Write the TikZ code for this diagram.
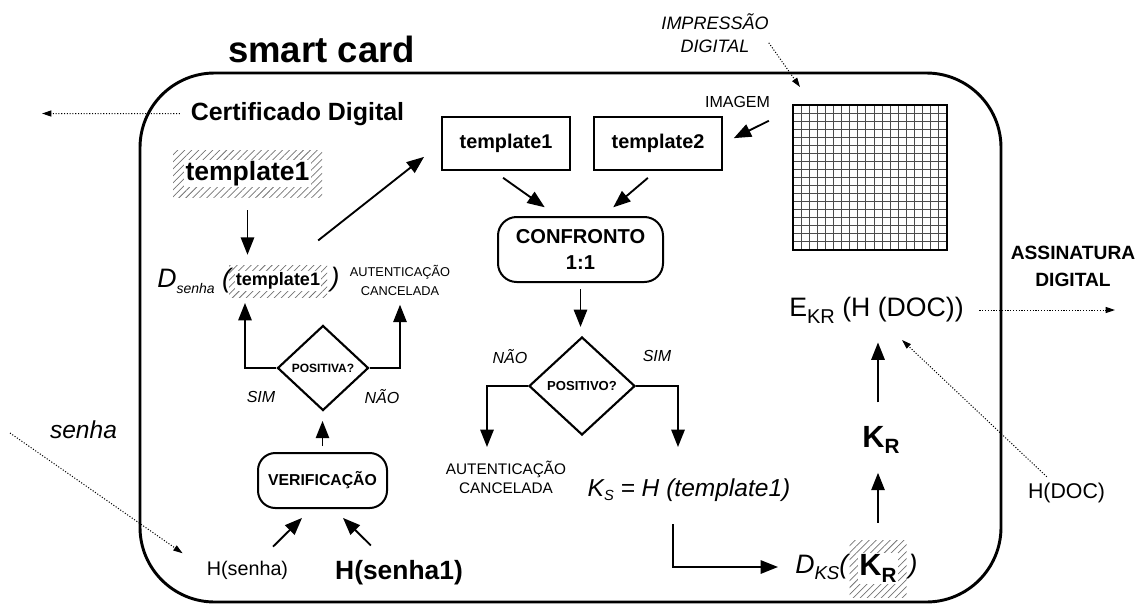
\documentclass[tikz,border=0pt]{standalone}
\usepackage{fontspec}
\setmainfont{Liberation Sans}
\usetikzlibrary{arrows.meta,shapes.geometric,patterns.meta,calc}

\newcommand{\setfs}[2]{\fontsize{#1}{#2}\selectfont}

\tikzset{
  arr/.style={line width=1.4pt, -{Triangle[length=13pt,width=10pt]}},
  dotarr/.style={line width=0.75pt, dash pattern=on 0.8pt off 1.3pt, -{Triangle[length=7pt,width=4.5pt]}},
  txt/.style={inner sep=0pt},
  box/.style={draw, line width=1.5pt, inner sep=0pt},
  termbox/.style={draw, line width=1.5pt, inner sep=0pt, rounded corners=14pt, align=center},
  decision/.style={diamond, draw, line width=1.6pt, inner sep=0pt},
  hatch/.style={pattern={Lines[angle=45,distance=3.7pt,line width=0.55pt]}, pattern color=black!55, inner sep=0pt},
  cover/.style={fill=white, inner sep=1pt},
  gridln/.style={line width=0.7pt, black!70},
}

\begin{document}
\begin{tikzpicture}[x=0.75pt,y=-0.75pt]
\useasboundingbox (0,0) rectangle (1137,607);

% card outline and title
\node[draw, line width=2.2pt, rounded corners=56pt, minimum width=645.75pt,
      minimum height=396.75pt, inner sep=0pt] (card) at (570.5,337.5) {};
\node[txt, anchor=base] (title) at (321.5,62) {\setfs{27.4}{32}\bfseries smart card};

% certificate
\node[txt, anchor=base] (cert) at (297.5,120) {\setfs{18.7}{22}\bfseries Certificado Digital};
\coordinate (certOut) at (42,113.5);
\draw[dotarr, shorten <=8pt] (cert.west) -- (certOut);

% stored (encrypted) template
\node[hatch, minimum width=111.75pt, minimum height=35.25pt] (tplA) at (247.5,173.5) {};
\node[cover] (tplAt) at (tplA) {\setfs{19.9}{24}\bfseries template1};

% decryption with the password
\node[txt, anchor=west] (dsen) at (157,281)
  {\setfs{20}{24}\itshape D\raisebox{-4.5pt}{\setfs{10.5}{12}senha}\ (};
\node[hatch, minimum width=73.5pt, minimum height=24pt] (dhat) at (278,281) {};
\node[cover] (dhatT) at (dhat) {\setfs{13.5}{16}\bfseries template1};
\node[txt] (dclose) at (335,280) {\setfs{20}{24}\itshape )};
\node[txt, align=center, font=\setfs{9.6}{14.2}] (canc1) at (400,280) {AUTENTICAÇÃO\\CANCELADA};

\draw[arr, shorten <=9.75pt, shorten >=7.5pt] (tplA.south) -- (tplA.south |- dhat.north);

% password check
\node[decision, minimum width=68.25pt, minimum height=63.75pt, font=\setfs{9}{10}\bfseries]
  (dia1) at (323,368) {POSITIVA?};
\coordinate (simEnd1) at (245,303);
\draw[arr] (dia1.west) -| (simEnd1);
\draw[arr, shorten >=7pt] (dia1.east) -| (canc1.south);
\node[txt] (sim1) at (261,397) {\setfs{12}{14}\itshape SIM};
\node[txt] (nao1) at (382,397) {\setfs{12}{14}\itshape NÃO};

\node[termbox, rounded corners=13pt, minimum width=96.75pt, minimum height=41.25pt,
      font=\setfs{11.85}{14}\bfseries] (ver) at (322.5,480.5) {VERIFICAÇÃO};
\draw[arr, shorten <=4.5pt, shorten >=7pt] (ver.north) -- (ver.north |- dia1.south);

\node[txt] (hs) at (247.5,570) {\setfs{14.8}{18}H(senha)};
\node[txt] (hs1) at (399,573) {\setfs{19.8}{24}\bfseries H(senha1)};
\draw[arr, shorten <=14.8pt, shorten >=9.5pt] ([xshift=8.6pt]hs.north) -- ([xshift=-8.6pt]ver.south);
\draw[arr, shorten <=16pt, shorten >=9.5pt] ([xshift=-9.75pt]hs1.north) -- ([xshift=8.6pt]ver.south);

\node[txt] (senha) at (83.5,430) {\setfs{18.4}{22}\itshape senha};
\coordinate (senhaIn) at (10,433);
\draw[dotarr, shorten >=22pt] (senhaIn) -- (hs.west);

% fingerprint image
\foreach \i in {1,...,18} { \draw[gridln] (793+\i*8.105,105) -- (793+\i*8.105,250); }
\foreach \j in {1,...,17} { \draw[gridln] (793,105+\j*8.056) -- (947,105+\j*8.056); }
\node[draw, line width=2.2pt, minimum width=115.5pt, minimum height=108.75pt, inner sep=0pt]
  (img) at (870,177.5) {};

\node[txt, align=center, font=\setfs{13.5}{17.25}\itshape] (imp) at (715,33.5) {IMPRESSÃO\\DIGITAL};
\coordinate (impTip) at (800,87);
\draw[dotarr] ([yshift=-7pt]imp.east) -- (impTip);

\node[txt] (imglbl) at (737.5,102) {\setfs{12}{14}IMAGEM};

% templates and 1:1 match
\node[box, minimum width=96pt, minimum height=39.75pt, font=\setfs{14.9}{18}\bfseries]
  (tpl1) at (506,143.5) {template1};
\node[box, minimum width=96pt, minimum height=39.75pt, font=\setfs{14.9}{18}\bfseries]
  (tpl2) at (658,143.5) {template2};

\draw[arr, shorten <=29.4pt, shorten >=16.2pt] (dhat.60) -- (tpl1.west);
\draw[arr, shorten <=19pt, shorten >=9pt] ([yshift=-4.5pt]img.north west) -- (tpl2.east);

\node[termbox, minimum width=123.75pt, minimum height=48.75pt, font=\setfs{15.1}{20}\bfseries]
  (conf) at (580.5,249.5) {CONFRONTO\\1:1};
\draw[arr, shorten <=8.8pt, shorten >=11.3pt] ([xshift=-9.4pt]tpl1.south) -- ([xshift=-17.6pt]conf.north);
\draw[arr, shorten <=8pt, shorten >=10pt] ([xshift=-1.5pt]tpl2.south) -- ([xshift=16.9pt]conf.north);

\node[decision, minimum width=79.5pt, minimum height=73.5pt, font=\setfs{9.8}{11}\bfseries]
  (dia2) at (582,386) {POSITIVO?};
\draw[arr, shorten <=4.5pt, shorten >=6.75pt] (conf.south) -- (conf.south |- dia2.north);

\coordinate (naoEnd) at (487,447);
\coordinate (simEnd) at (678,447);
\draw[arr] (dia2.west) -| (naoEnd);
\draw[arr] (dia2.east) -| (simEnd);
\node[txt] (nao2) at (510,357) {\setfs{12}{14}\itshape NÃO};
\node[txt] (sim2) at (657,356) {\setfs{12}{14}\itshape SIM};

\node[txt, align=center, font=\setfs{11.5}{14.6}] (canc2) at (506,477.5) {AUTENTICAÇÃO\\CANCELADA};
\node[txt] (ks) at (689,490)
  {\setfs{18.4}{22}\itshape K\raisebox{-3pt}{\setfs{11}{13}S} = H (template1)};

% private key recovery and signature
\node[txt, anchor=west] (dks) at (795,567)
  {\setfs{20}{24}\itshape D\raisebox{-4pt}{\setfs{14}{16}KS}(};
\node[hatch, minimum width=42.75pt, minimum height=42.75pt] (dhat2) at (878,568.5) {};
\node[cover] (dhat2t) at (dhat2) {\setfs{23}{26}\bfseries K\raisebox{-5pt}{\setfs{15.5}{18}R}};
\node[txt] (dksclose) at (913,567) {\setfs{20}{24}\itshape )};

\draw[arr, shorten <=17pt, shorten >=12.75pt] ([xshift=-12pt]ks.south) |- (dks.west);

\node[txt] (kr) at (881,440) {\setfs{23}{26}\bfseries K\raisebox{-5pt}{\setfs{15.5}{18}R}};
\node[txt] (ekr) at (876.5,310)
  {\setfs{20}{24}E\raisebox{-5pt}{\setfs{15}{18}KR} (H (DOC))};

\draw[arr, shorten <=12.75pt, shorten >=14pt] (dhat2.north) -- (dhat2.north |- kr.south);
\draw[arr, shorten <=17.6pt, shorten >=14.4pt] (dhat2.north |- kr.north) -- (dhat2.north |- ekr.south);

\node[txt, align=center, font=\setfs{14.4}{20}\bfseries] (assin) at (1073,266.5) {ASSINATURA\\DIGITAL};
\coordinate (sigOut) at (1115,310);
\draw[dotarr, shorten <=11.6pt] (ekr.east) -- (sigOut);

\node[txt] (hdoc) at (1066.5,493) {\setfs{16}{19}H(DOC)};
\coordinate (hdocTip) at (902,340);
\draw[dotarr, shorten <=6.6pt] ([xshift=-10pt]hdoc.north) -- (hdocTip);

\end{tikzpicture}
\end{document}
